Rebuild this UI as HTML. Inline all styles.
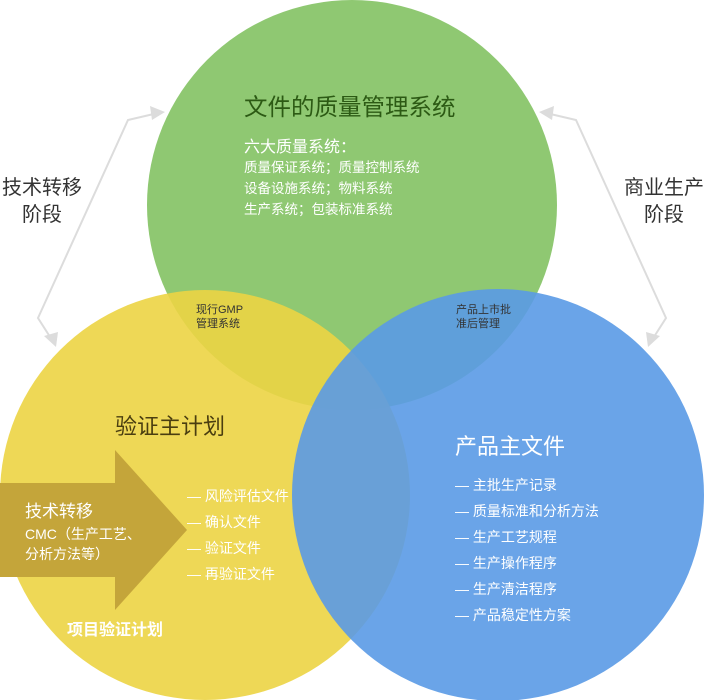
<!DOCTYPE html>
<html><head><meta charset="utf-8"><style>
body{margin:0;width:704px;height:700px;background:#fff;overflow:hidden;font-family:"Liberation Sans","Noto Sans CJK SC",sans-serif}
svg{position:absolute;left:0;top:0}
.t{position:absolute;white-space:nowrap}
</style></head><body>
<svg width="704" height="700">
<circle cx="352" cy="205" r="205" fill="#8fc872"/>
<circle cx="205" cy="495" r="205" fill="#ecd444" opacity="0.9"/>
<circle cx="498" cy="495" r="206" fill="#5a9ae6" opacity="0.9"/>
<polygon points="0,483 115,483 115,450 187,530 115,610 115,577 0,577" fill="#c4a53a"/>
<g stroke="#dcdcdc" stroke-width="2" fill="none">
<polyline points="158,113 128,120 38,318 52,340"/>
<polyline points="546,113 576,120 666,318 652,340"/>
</g>
<g fill="#dcdcdc">
<polygon points="165,112 150,106 152,120"/>
<polygon points="56,347 44,336 58,332"/>
<polygon points="539,112 554,106 552,120"/>
<polygon points="648,347 660,336 646,332"/>
</g>
</svg>
<div class="t" style="left:244px;top:88px;font-size:23.5px;color:#2c5a14">文件的质量管理系统</div>
<div class="t" style="left:244px;top:133px;font-size:16px;color:#fff">六大质量系统：</div>
<div class="t" style="left:244px;top:157px;font-size:13.5px;color:#fff;line-height:21px">质量保证系统；质量控制系统<br>设备设施系统；物料系统<br>生产系统；包装标准系统</div>
<div class="t" style="left:0px;top:175px;font-size:20px;color:#333;text-align:center;line-height:27px;width:84px">技术转移<br>阶段</div>
<div class="t" style="left:620px;top:175px;font-size:20px;color:#333;text-align:center;line-height:27px;width:88px">商业生产<br>阶段</div>
<div class="t" style="left:196px;top:303px;font-size:11px;color:#333;line-height:14px">现行GMP<br>管理系统</div>
<div class="t" style="left:456px;top:303px;font-size:11px;color:#333;line-height:14px">产品上市批<br>准后管理</div>
<div class="t" style="left:115px;top:409px;font-size:22px;color:#4a3e10">验证主计划</div>
<div class="t" style="left:25px;top:497px;font-size:17px;color:#fff">技术转移</div>
<div class="t" style="left:25px;top:524px;font-size:14px;color:#fff;line-height:20px">CMC（生产工艺、<br>分析方法等）</div>
<div class="t" style="left:187px;top:483px;font-size:14px;color:#fff;line-height:26px">— 风险评估文件<br>— 确认文件<br>— 验证文件<br>— 再验证文件</div>
<div class="t" style="left:67px;top:616px;font-size:16px;color:#fff;font-weight:bold">项目验证计划</div>
<div class="t" style="left:455px;top:429px;font-size:22px;color:#fff">产品主文件</div>
<div class="t" style="left:455px;top:472px;font-size:14px;color:#fff;line-height:26px">— 主批生产记录<br>— 质量标准和分析方法<br>— 生产工艺规程<br>— 生产操作程序<br>— 生产清洁程序<br>— 产品稳定性方案</div>
</body></html>
